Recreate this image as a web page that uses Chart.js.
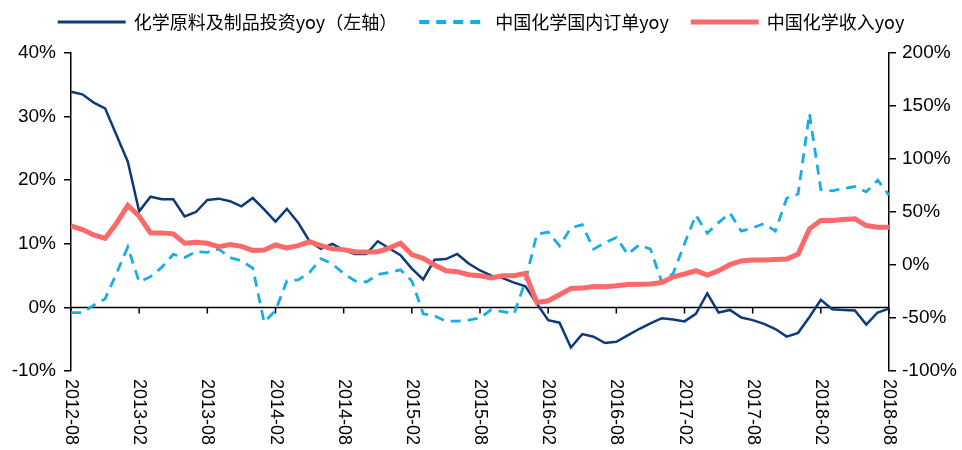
<!DOCTYPE html>
<html>
<head>
<meta charset="utf-8">
<script src="https://cdn.jsdelivr.net/npm/chart.js@4.4.1/dist/chart.umd.min.js"></script>
<style>
  html, body { margin: 0; padding: 0; background: #fff; }
  #wrap { width: 962px; height: 450px; position: relative; }
</style>
</head>
<body>
<div id="wrap"><canvas id="chart"></canvas></div>
<script>
// months on the x axis
const months = [
  '2012-08','2012-09','2012-10','2012-11','2012-12','2013-01','2013-02','2013-03','2013-04','2013-05','2013-06','2013-07',
  '2013-08','2013-09','2013-10','2013-11','2013-12','2014-01','2014-02','2014-03','2014-04','2014-05','2014-06','2014-07',
  '2014-08','2014-09','2014-10','2014-11','2014-12','2015-01','2015-02','2015-03','2015-04','2015-05','2015-06','2015-07',
  '2015-08','2015-09','2015-10','2015-11','2015-12','2016-01','2016-02','2016-03','2016-04','2016-05','2016-06','2016-07',
  '2016-08','2016-09','2016-10','2016-11','2016-12','2017-01','2017-02','2017-03','2017-04','2017-05','2017-06','2017-07',
  '2017-08','2017-09','2017-10','2017-11','2017-12','2018-01','2018-02','2018-03','2018-04','2018-05','2018-06','2018-07',
  '2018-08'
];
const xTickLabels = ['2012-08','2013-02','2013-08','2014-02','2014-08','2015-02','2015-08','2016-02','2016-08','2017-02','2017-08','2018-02','2018-08'];

const leftTicks = [-10, 0, 10, 20, 30, 40];
const rightTicks = [-100, -50, 0, 50, 100, 150, 200];

// 化学原料及制品投资yoy (left axis, %)
const investYoy = [
  33.9, 33.5, 32.2, 31.3, 27.1, 22.9, 15.1, 17.4, 17.0, 17.0, 14.3, 15.0,
  16.9, 17.1, 16.7, 15.9, 17.2, 15.4, 13.5, 15.5, 13.3, 10.4, 9.2, 10.0,
  9.0, 8.4, 8.4, 10.4, 9.3, 8.2, 6.1, 4.4, 7.5, 7.6, 8.4, 6.9,
  5.8, 5.0, 4.6, 3.9, 3.3, 0.6, -2.0, -2.4, -6.3, -4.2, -4.6, -5.6,
  -5.4, -4.4, -3.4, -2.5, -1.7, -1.9, -2.2, -1.0, 2.2, -0.8, -0.4, -1.6,
  -2.0, -2.6, -3.4, -4.6, -4.0, -1.5, 1.2, -0.3, -0.4, -0.5, -2.7, -0.8,
  -0.2
];
// 中国化学国内订单yoy (right axis, %)
const ordersYoy = [
  -45, -45, -38, -32, -8, 17, -16, -11, -2, 10, 7, 12.6,
  12, 15, 7, 4, -3, -54, -43, -15, -14, -7, 6, 1,
  -8, -15, -16, -9, -7, -4.5, -15, -46, -48, -53, -53, -52,
  -50, -42, -44, -46, -15, 29, 31, 18, 35, 38, 15, 21,
  26, 10, 19, 15, -16, -8, 20, 47, 30, 40, 49, 32,
  35, 39, 32, 63, 67, 143, 71, 70, 72, 74, 69, 80,
  66
];
// 中国化学收入yoy (right axis, %)
const revenueYoy = [
  36.9, 33.4, 28.4, 25.2, 39.2, 56.2, 46, 30.3, 30.3, 29.4, 20.5, 21.4,
  20.5, 17.3, 19.2, 17.6, 13.8, 14.2, 18.9, 16.1, 18.3, 22.1, 18.3, 15.2,
  14.5, 12.6, 12.2, 12.6, 16, 20.5, 9.8, 6.3, 0, -5.4, -6.3, -9.2,
  -10.1, -12.3, -10.1, -10.1, -7.9, -35.4, -33.8, -28.1, -22.2, -21.8, -20.3, -20.5,
  -19.6, -18.4, -18.2, -18, -16.5, -11.1, -8.5, -5.4, -9.5, -5.4, 0.3, 3.8,
  4.7, 4.7, 5.2, 5.7, 10.4, 34.1, 42, 42, 42.9, 43.6, 37.2, 35.6,
  35.6
];

const legendLineWidths = [3, 4, 5];
const axisFont = { family: 'Liberation Sans, Arial, sans-serif', size: 19 };

// x axis on the left-axis zero line, rotated date labels, and the legend row
const xAxisPlugin = {
  id: 'xAxisPlugin',
  beforeDatasetsDraw(chart) {
    const { ctx, chartArea, scales } = chart;
    const y0 = scales.y.getPixelForValue(0);
    ctx.save();
    ctx.strokeStyle = '#000';
    ctx.lineWidth = 1.5;
    ctx.beginPath();
    ctx.moveTo(chartArea.left, y0);
    ctx.lineTo(chartArea.right, y0);
    xTickLabels.forEach(lab => {
      const x = scales.x.getPixelForValue(months.indexOf(lab));
      ctx.moveTo(x, y0);
      ctx.lineTo(x, y0 + 6);
    });
    ctx.stroke();
    ctx.restore();
  },
  afterDraw(chart) {
    const { ctx, chartArea, scales } = chart;
    ctx.save();
    ctx.fillStyle = '#000';
    ctx.font = '18px "Liberation Sans", Arial, sans-serif';
    ctx.textAlign = 'left';
    ctx.textBaseline = 'middle';
    xTickLabels.forEach(lab => {
      const x = scales.x.getPixelForValue(months.indexOf(lab));
      ctx.save();
      ctx.translate(x, chartArea.bottom + 8);
      ctx.rotate(Math.PI / 2);
      ctx.fillText(lab, 0, 0);
      ctx.restore();
    });

    // legend
    const lineLen = 68, gap = 8, spacing = 22, ly = 22;
    ctx.font = '18px "Noto Sans CJK SC", sans-serif';
    const sets = chart.data.datasets;
    const widths = sets.map(d => lineLen + gap + ctx.measureText(d.label).width);
    const total = widths.reduce((s, w) => s + w, 0) + spacing * (sets.length - 1);
    let x = (chart.width - total) / 2;
    sets.forEach((d, i) => {
      ctx.strokeStyle = d.borderColor;
      ctx.lineWidth = legendLineWidths[i];
      ctx.setLineDash(d.borderDash || []);
      ctx.beginPath();
      ctx.moveTo(x, ly);
      ctx.lineTo(x + lineLen, ly);
      ctx.stroke();
      ctx.setLineDash([]);
      ctx.fillStyle = '#000';
      ctx.fillText(d.label, x + lineLen + gap, ly);
      x += widths[i] + spacing;
    });
    ctx.restore();
  }
};

new Chart(document.getElementById('chart'), {
  type: 'line',
  data: {
    labels: months,
    datasets: [
      {
        label: '化学原料及制品投资yoy（左轴）',
        data: investYoy,
        yAxisID: 'y',
        borderColor: '#0c3a7a',
        backgroundColor: '#0c3a7a',
        borderWidth: 2.5,
        pointRadius: 0,
        tension: 0,
        order: 1
      },
      {
        label: '中国化学国内订单yoy',
        data: ordersYoy,
        yAxisID: 'y1',
        borderColor: '#17aee8',
        backgroundColor: '#17aee8',
        borderWidth: 2.8,
        borderDash: [10, 7],
        pointRadius: 0,
        tension: 0,
        order: 2
      },
      {
        label: '中国化学收入yoy',
        data: revenueYoy,
        yAxisID: 'y1',
        borderColor: '#fa6a6a',
        backgroundColor: '#fa6a6a',
        borderWidth: 5,
        pointRadius: 0,
        tension: 0,
        order: 0
      }
    ]
  },
  options: {
    responsive: true,
    maintainAspectRatio: false,
    animation: false,
    layout: { padding: { top: 53, left: 0, right: 0, bottom: 0 } },
    plugins: {
      legend: { display: false },
      tooltip: { enabled: false }
    },
    scales: {
      x: {
        type: 'category',
        offset: false,
        grid: { display: false },
        border: { display: false },
        ticks: { display: false },
        afterFit: s => { s.height = 79; }
      },
      y: {
        position: 'left',
        min: -10,
        max: 40,
        afterBuildTicks: s => { s.ticks = leftTicks.map(v => ({ value: v })); },
        afterFit: s => { s.width = 71; },
        grid: { display: true, drawOnChartArea: false, drawTicks: true, tickLength: 7, color: '#000', lineWidth: 1.5 },
        border: { display: true, color: '#000', width: 1.5 },
        ticks: { color: '#000', font: axisFont, padding: 8, callback: v => v + '%' }
      },
      y1: {
        position: 'right',
        min: -100,
        max: 200,
        afterBuildTicks: s => { s.ticks = rightTicks.map(v => ({ value: v })); },
        afterFit: s => { s.width = 73; },
        grid: { display: true, drawOnChartArea: false, drawTicks: true, tickLength: 7, color: '#000', lineWidth: 1.5 },
        border: { display: true, color: '#000', width: 1.5 },
        ticks: { color: '#000', font: axisFont, padding: 6, callback: v => v + '%' }
      }
    }
  },
  plugins: [xAxisPlugin]
});
</script>
</body>
</html>
